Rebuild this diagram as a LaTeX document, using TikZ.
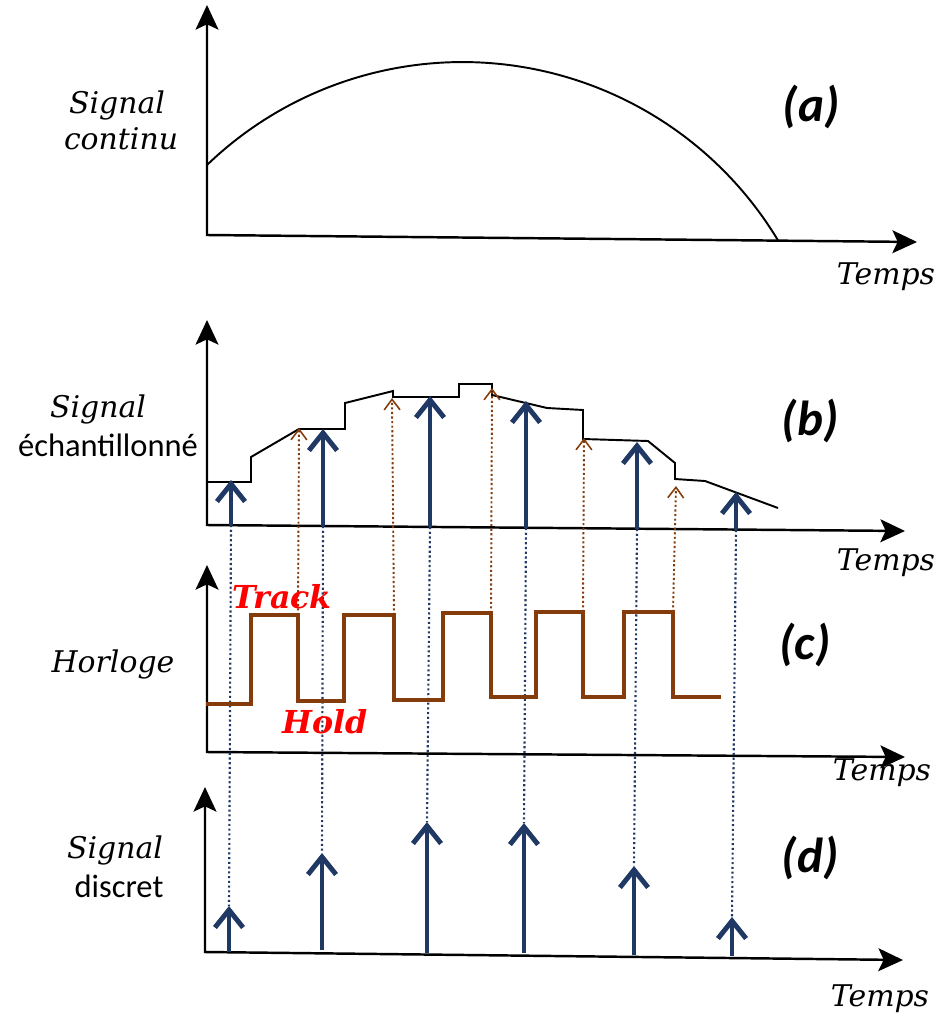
\documentclass[tikz,border=0pt]{standalone}
\usepackage{fontspec}
\newfontfamily\dvserif{DejaVu Serif}
\newfontfamily\carl{Carlito}
\definecolor{navy}{HTML}{1F3864}
\definecolor{brn}{HTML}{843C0C}
\usetikzlibrary{arrows.meta}

\begin{document}
\begin{tikzpicture}[x=0.02cm, y=-0.02cm,
  axis/.style={line width=1.4pt, line join=miter,
               {Stealth[length=14pt, width=13pt, inset=3pt]}-{Stealth[length=14pt, width=13pt, inset=3pt]}},
  sig/.style={line width=1.1pt},
  samp/.style={navy, line width=2.8pt, -{Straight Barb[length=10pt, width=16pt]}},
  trk/.style={brn, line width=1.1pt, dash pattern=on 1.2pt off 1.4pt,
              -{Straight Barb[length=6pt, width=9pt, line width=0.9pt]}},
  link/.style={navy, line width=1.2pt, dash pattern=on 1.2pt off 1.5pt},
  clk/.style={brn, line width=2.8pt, line join=miter},
  lbl/.style={font=\dvserif\itshape\fontsize{17}{20}\selectfont, anchor=base},
  sans/.style={font=\carl\fontsize{18.5}{22}\selectfont, anchor=base},
  tag/.style={font=\carl\bfseries\itshape\fontsize{28}{32}\selectfont},
  th/.style={font=\dvserif\bfseries\itshape\fontsize{18}{21}\selectfont, red}
]
\useasboundingbox (0,0) rectangle (941,1017);

% axes
\draw[axis] (207,5) -- (207,235) -- (917,242);
\draw[axis] (207,320) -- (207,525) -- (905,531);
\draw[axis] (207,565) -- (207,752) -- (905,757);
\draw[axis] (205,787) -- (205,952) -- (903,960);

% (a) continuous signal
\draw[sig] (207,165) arc[start angle=226.1, end angle=328.9, radius=368.4];

% (b) sampled signal
\draw[sig] (208,482) -- (251,482) -- (251,457) -- (299,429) -- (345,429) -- (345,403)
  -- (393,391) -- (393,397) -- (459,397) -- (459,384) -- (492,384) -- (492,395)
  -- (547,408) -- (583,410) -- (583,439) -- (648,441) -- (675,463) -- (675,479)
  -- (705,481) -- (778,508);

% sample points
\coordinate (sb1) at (231,525); \coordinate (tb1) at (231,480);
\coordinate (sb2) at (323,526); \coordinate (tb2) at (323,429);
\coordinate (sb3) at (430,527); \coordinate (tb3) at (430,396);
\coordinate (sb4) at (526,528); \coordinate (tb4) at (526,401);
\coordinate (sb5) at (637,529); \coordinate (tb5) at (637,442);
\coordinate (sb6) at (736,530); \coordinate (tb6) at (736,492);
\coordinate (sd1) at (229,952); \coordinate (td1) at (229,906);
\coordinate (sd2) at (322,950); \coordinate (td2) at (322,853);
\coordinate (sd3) at (427,953); \coordinate (td3) at (427,822);
\coordinate (sd4) at (524,953); \coordinate (td4) at (524,823);
\coordinate (sd5) at (634,955); \coordinate (td5) at (634,866);
\coordinate (sd6) at (732,956); \coordinate (td6) at (732,917);

% track instants
\coordinate (ck1) at (298,615); \coordinate (hb1) at (299,428);
\coordinate (ck2) at (394,615); \coordinate (hb2) at (392,398);
\coordinate (ck3) at (491,613); \coordinate (hb3) at (492,388);
\coordinate (ck4) at (583,612); \coordinate (hb4) at (584,438);
\coordinate (ck5) at (673,612); \coordinate (hb5) at (676,486);

\draw[link] (sb1) -- (td1);
\draw[link] (sb2) -- (td2);
\draw[link] (sb3) -- (td3);
\draw[link] (sb4) -- (td4);
\draw[link] (sb5) -- (td5);
\draw[link] (sb6) -- (td6);

\draw[trk] (ck1) -- (hb1);
\draw[trk] (ck2) -- (hb2);
\draw[trk] (ck3) -- (hb3);
\draw[trk] (ck4) -- (hb4);
\draw[trk] (ck5) -- (hb5);

\draw[samp] (sb1) -- (tb1);
\draw[samp] (sb2) -- (tb2);
\draw[samp] (sb3) -- (tb3);
\draw[samp] (sb4) -- (tb4);
\draw[samp] (sb5) -- (tb5);
\draw[samp] (sb6) -- (tb6);

% (c) clock
\draw[clk] (206,704) -- (251,704) -- (251,615) -- (298,615) -- (298,701) -- (344,701)
  -- (344,615) -- (394,615) -- (394,700) -- (443,700) -- (443,613) -- (491,613)
  -- (491,697) -- (536,697) -- (536,612) -- (583,612) -- (583,697) -- (624,697)
  -- (624,612) -- (673,612) -- (673,697) -- (721,697);

% (d) discrete signal
\draw[samp] (sd1) -- (td1);
\draw[samp] (sd2) -- (td2);
\draw[samp] (sd3) -- (td3);
\draw[samp] (sd4) -- (td4);
\draw[samp] (sd5) -- (td5);
\draw[samp] (sd6) -- (td6);

% labels
\node[lbl] (siga) at (117,113) {Signal};
\node[lbl] (cont) at (121,150) {continu};
\node[lbl] (sigb) at (98,417) {Signal};
\node[sans] (ech) at (108,456) {échantillonné};
\node[lbl] (horl) at (113,672) {Horloge};
\node[lbl] (sigd) at (115,858) {Signal};
\node[sans] (disc) at (119,897) {discret};

\node[lbl] (tpa) at (886,284) {Temps};
\node[lbl] (tpb) at (886,570) {Temps};
\node[lbl] (tpc) at (882,780) {Temps};
\node[lbl] (tpd) at (880,1006) {Temps};

\node[tag] (taga) at (811,107) {(a)};
\node[tag] (tagb) at (810,421) {(b)};
\node[tag] (tagc) at (805,645) {(c)};
\node[tag] (tagd) at (810,858) {(d)};

\node[th] (trck) at (282,597) {Track};
\node[th] (hld) at (325,722) {Hold};
\end{tikzpicture}
\end{document}
